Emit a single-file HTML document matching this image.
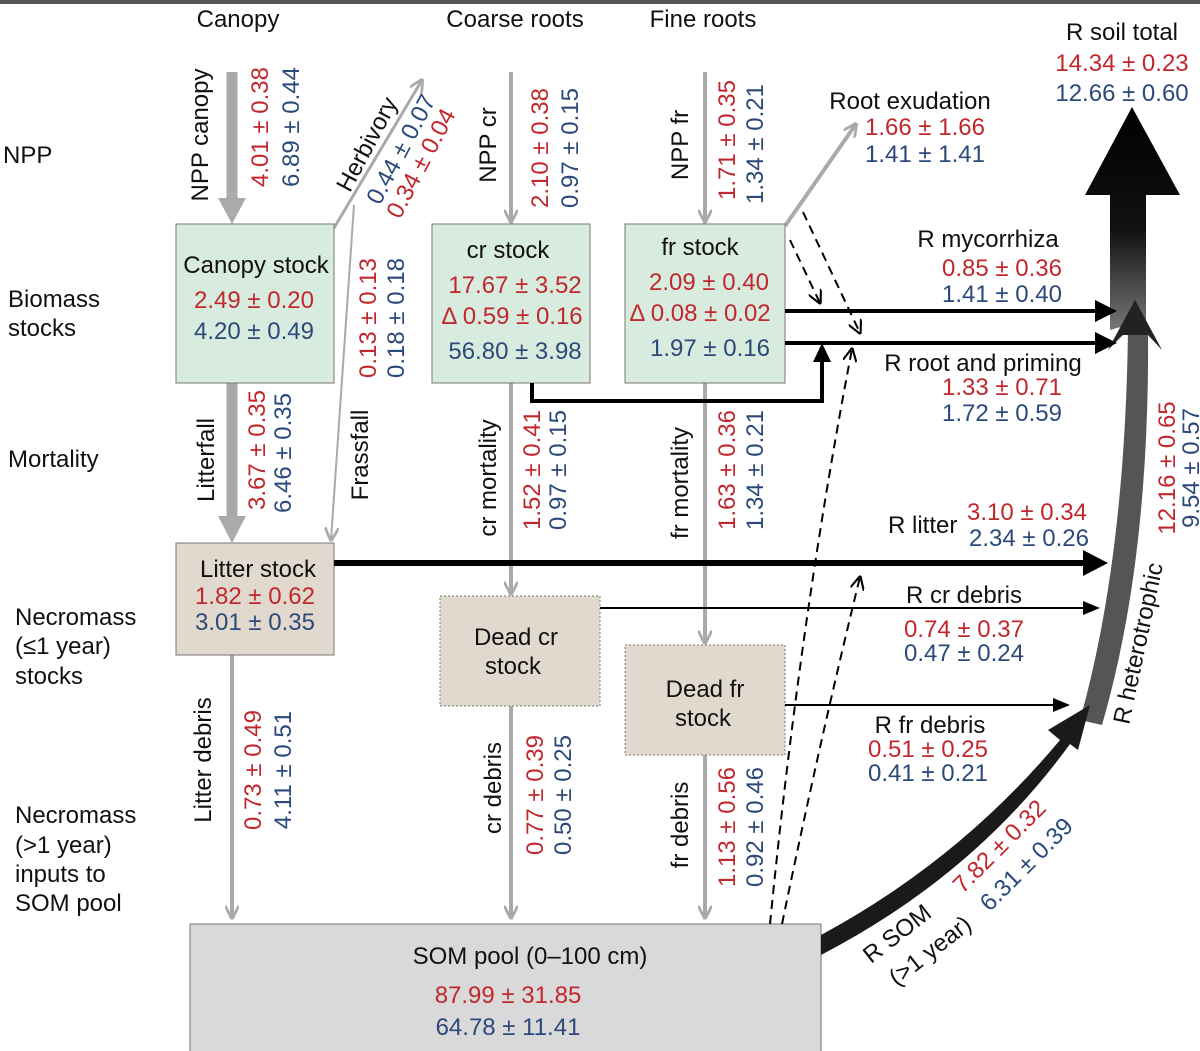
<!DOCTYPE html>
<html><head><meta charset="utf-8"><style>
html,body{margin:0;padding:0;background:#fff}
svg{display:block}
text{font-family:"Liberation Sans",sans-serif;font-size:24px}
.r{fill:#c0282d}.b{fill:#2b4a7a}.k{fill:#111}
</style></head><body>
<svg width="1200" height="1051" viewBox="0 0 1200 1051" xmlns="http://www.w3.org/2000/svg">
<defs>
<marker id="gs" viewBox="0 0 10 10" markerWidth="14" markerHeight="14" refX="9" refY="5" orient="auto" markerUnits="userSpaceOnUse"><path d="M0,0 L10,5 L0,10" fill="none" stroke="#aaa" stroke-width="2"/></marker>
<marker id="dv" viewBox="0 0 10 10" markerWidth="14" markerHeight="14" refX="9" refY="5" orient="auto" markerUnits="userSpaceOnUse"><path d="M0,0 L10,5 L0,10" fill="none" stroke="#000" stroke-width="1.5"/></marker>
<linearGradient id="gt" x1="0" y1="0" x2="0" y2="1"><stop offset="0" stop-color="#000"/><stop offset="0.55" stop-color="#111"/><stop offset="1" stop-color="#777"/></linearGradient>
</defs>
<rect x="0" y="0" width="1200" height="4" fill="#555"/>

<!-- column headers -->
<text x="238" y="27" text-anchor="middle" class="k" font-size="25">Canopy</text>
<text x="515" y="27" text-anchor="middle" class="k" font-size="25">Coarse roots</text>
<text x="703" y="27" text-anchor="middle" class="k" font-size="25">Fine roots</text>
<!-- row labels -->
<text x="3" y="163" class="k" font-size="25">NPP</text>
<text x="8" y="307" class="k">Biomass</text><text x="8" y="336" class="k">stocks</text>
<text x="8" y="467" class="k">Mortality</text>
<text x="15" y="625" class="k">Necromass</text><text x="15" y="654" class="k">(≤1 year)</text><text x="15" y="684" class="k">stocks</text>
<text x="15" y="823" class="k">Necromass</text><text x="15" y="853" class="k">(&gt;1 year)</text><text x="15" y="882" class="k">inputs to</text><text x="15" y="911" class="k">SOM pool</text>

<!-- gray vertical arrows -->
<g stroke="#aaa" fill="none">
<line x1="232" y1="72" x2="232" y2="200" stroke-width="11"/>
<path d="M218,198 L246,198 L232,224 z" fill="#aaa" stroke="none"/>
<line x1="232" y1="383" x2="232" y2="518" stroke-width="11"/>
<path d="M218,516 L246,516 L232,543 z" fill="#aaa" stroke="none"/>
<line x1="232" y1="655" x2="232" y2="918" stroke-width="4" marker-end="url(#gs)"/>
<line x1="511" y1="72" x2="511" y2="222" stroke-width="4" marker-end="url(#gs)"/>
<line x1="511" y1="383" x2="511" y2="594" stroke-width="4" marker-end="url(#gs)"/>
<line x1="511" y1="706" x2="511" y2="918" stroke-width="4" marker-end="url(#gs)"/>
<line x1="705" y1="72" x2="705" y2="222" stroke-width="4" marker-end="url(#gs)"/>
<line x1="705" y1="383" x2="705" y2="643" stroke-width="4" marker-end="url(#gs)"/>
<line x1="705" y1="755" x2="705" y2="918" stroke-width="4" marker-end="url(#gs)"/>
<line x1="334" y1="228" x2="422" y2="80" stroke-width="3" marker-end="url(#gs)"/>
<line x1="354" y1="205" x2="331" y2="540" stroke-width="2" marker-end="url(#gs)"/>
<line x1="785" y1="226" x2="856" y2="124" stroke-width="4" marker-end="url(#gs)"/>
</g>

<!-- boxes -->
<g stroke="#777" stroke-width="1">
<rect x="176" y="224" width="158" height="159" fill="#d8ebdf"/>
<rect x="432" y="224" width="158" height="159" fill="#d8ebdf"/>
<rect x="625" y="224" width="160" height="159" fill="#d8ebdf"/>
<rect x="176" y="543" width="158" height="112" fill="#e2d9ce"/>
<rect x="440" y="596" width="160" height="110" fill="#e2d9ce" stroke-dasharray="2,2"/>
<rect x="625" y="645" width="160" height="110" fill="#e2d9ce" stroke-dasharray="2,2"/>
<rect x="190" y="924" width="631" height="140" fill="#d9d9d9"/>
</g>
<text x="256" y="273" text-anchor="middle" class="k">Canopy stock</text>
<text x="254" y="308" text-anchor="middle" class="r">2.49 ± 0.20</text>
<text x="254" y="339" text-anchor="middle" class="b">4.20 ± 0.49</text>
<text x="508" y="258" text-anchor="middle" class="k">cr stock</text>
<text x="515" y="293" text-anchor="middle" class="r">17.67 ± 3.52</text>
<text x="512" y="324" text-anchor="middle" class="r">Δ 0.59 ± 0.16</text>
<text x="515" y="359" text-anchor="middle" class="b">56.80 ± 3.98</text>
<text x="700" y="255" text-anchor="middle" class="k">fr stock</text>
<text x="709" y="290" text-anchor="middle" class="r">2.09 ± 0.40</text>
<text x="700" y="321" text-anchor="middle" class="r">Δ 0.08 ± 0.02</text>
<text x="710" y="356" text-anchor="middle" class="b">1.97 ± 0.16</text>
<text x="258" y="577" text-anchor="middle" class="k">Litter stock</text>
<text x="255" y="604" text-anchor="middle" class="r">1.82 ± 0.62</text>
<text x="255" y="630" text-anchor="middle" class="b">3.01 ± 0.35</text>
<text x="516" y="645" text-anchor="middle" class="k">Dead cr</text>
<text x="513" y="674" text-anchor="middle" class="k">stock</text>
<text x="705" y="697" text-anchor="middle" class="k">Dead fr</text>
<text x="703" y="726" text-anchor="middle" class="k">stock</text>
<text x="530" y="964" text-anchor="middle" class="k">SOM pool  (0–100 cm)</text>
<text x="508" y="1003" text-anchor="middle" class="r">87.99 ± 31.85</text>
<text x="508" y="1035" text-anchor="middle" class="b">64.78 ± 11.41</text>

<!-- rotated labels -->
<g>
<text transform="translate(208,135) rotate(-90)" text-anchor="middle" class="k">NPP canopy</text>
<text transform="translate(268,127) rotate(-90)" text-anchor="middle" class="r">4.01 ± 0.38</text>
<text transform="translate(299,127) rotate(-90)" text-anchor="middle" class="b">6.89 ± 0.44</text>
<text transform="translate(374,148) rotate(-62)" text-anchor="middle" class="k">Herbivory</text>
<text transform="translate(408,153) rotate(-62)" text-anchor="middle" class="b">0.44 ± 0.07</text>
<text transform="translate(428,167) rotate(-62)" text-anchor="middle" class="r">0.34 ± 0.04</text>
<text transform="translate(496,145) rotate(-90)" text-anchor="middle" class="k">NPP cr</text>
<text transform="translate(548,148) rotate(-90)" text-anchor="middle" class="r">2.10 ± 0.38</text>
<text transform="translate(578,148) rotate(-90)" text-anchor="middle" class="b">0.97 ± 0.15</text>
<text transform="translate(688,145) rotate(-90)" text-anchor="middle" class="k">NPP fr</text>
<text transform="translate(735,140) rotate(-90)" text-anchor="middle" class="r">1.71 ± 0.35</text>
<text transform="translate(763,144) rotate(-90)" text-anchor="middle" class="b">1.34 ± 0.21</text>
<text transform="translate(376,318) rotate(-90)" text-anchor="middle" class="r">0.13 ± 0.13</text>
<text transform="translate(404,318) rotate(-90)" text-anchor="middle" class="b">0.18 ± 0.18</text>
<text transform="translate(214,460) rotate(-90)" text-anchor="middle" class="k">Litterfall</text>
<text transform="translate(265,450) rotate(-90)" text-anchor="middle" class="r">3.67 ± 0.35</text>
<text transform="translate(291,453) rotate(-90)" text-anchor="middle" class="b">6.46 ± 0.35</text>
<text transform="translate(368,455) rotate(-90)" text-anchor="middle" class="k">Frassfall</text>
<text transform="translate(496,478) rotate(-90)" text-anchor="middle" class="k">cr mortality</text>
<text transform="translate(540,470) rotate(-90)" text-anchor="middle" class="r">1.52 ± 0.41</text>
<text transform="translate(566,470) rotate(-90)" text-anchor="middle" class="b">0.97 ± 0.15</text>
<text transform="translate(688,483) rotate(-90)" text-anchor="middle" class="k">fr mortality</text>
<text transform="translate(735,470) rotate(-90)" text-anchor="middle" class="r">1.63 ± 0.36</text>
<text transform="translate(763,470) rotate(-90)" text-anchor="middle" class="b">1.34 ± 0.21</text>
<text transform="translate(211,760) rotate(-90)" text-anchor="middle" class="k">Litter debris</text>
<text transform="translate(261,770) rotate(-90)" text-anchor="middle" class="r">0.73 ± 0.49</text>
<text transform="translate(291,770) rotate(-90)" text-anchor="middle" class="b">4.11 ± 0.51</text>
<text transform="translate(501,788) rotate(-90)" text-anchor="middle" class="k">cr debris</text>
<text transform="translate(543,795) rotate(-90)" text-anchor="middle" class="r">0.77 ± 0.39</text>
<text transform="translate(571,795) rotate(-90)" text-anchor="middle" class="b">0.50 ± 0.25</text>
<text transform="translate(688,825) rotate(-90)" text-anchor="middle" class="k">fr debris</text>
<text transform="translate(735,827) rotate(-90)" text-anchor="middle" class="r">1.13 ± 0.56</text>
<text transform="translate(763,827) rotate(-90)" text-anchor="middle" class="b">0.92 ± 0.46</text>
</g>

<!-- big arrows -->
<path d="M1110,330 L1110,195 L1085,195 L1132,107 L1180,195 L1146,195 L1146,320 Z" fill="url(#gt)"/>
<path d="M1080,720 Q1125,560 1128,330 L1108,350 L1135,300 L1162,350 L1148,330 Q1150,560 1102,725 Z" fill="#555"/>
<path d="M1108,350 L1135,300 L1162,350 L1148,335 L1122,335 Z" fill="#222"/>
<path d="M821,935 Q960,860 1060,740 L1048,730 L1090,705 L1078,750 L1070,744 Q975,875 821,955 Z" fill="#1a1a1a"/>

<!-- black horizontal arrows -->
<g stroke="#000" fill="none">
<line x1="785" y1="311" x2="1098" y2="311" stroke-width="4"/>
<path d="M1095,300 L1117,311 L1095,322 z" fill="#000" stroke="none"/>
<line x1="785" y1="343" x2="1098" y2="343" stroke-width="4"/>
<path d="M1095,332 L1117,343 L1095,354 z" fill="#000" stroke="none"/>
<path d="M532,383 L532,401 L822,401 L822,360" stroke-width="4"/>
<path d="M813,362 L822,343 L831,362 z" fill="#000" stroke="none"/>
<line x1="334" y1="563" x2="1090" y2="563" stroke-width="6"/>
<path d="M1083,550 L1108,563 L1083,576 z" fill="#000" stroke="none"/>
<line x1="600" y1="608" x2="1092" y2="608" stroke-width="2"/>
<path d="M1083,601 L1100,608 L1083,615 z" fill="#000" stroke="none"/>
<line x1="785" y1="705" x2="1062" y2="705" stroke-width="2"/>
<path d="M1053,698 L1070,705 L1053,712 z" fill="#000" stroke="none"/>
</g>
<!-- dashed -->
<g stroke="#000" fill="none" stroke-width="2" stroke-dasharray="9,6">
<line x1="790" y1="240" x2="820" y2="303" marker-end="url(#dv)"/>
<line x1="803" y1="212" x2="860" y2="333" marker-end="url(#dv)"/>
<path d="M770,924 Q800,620 852,349" marker-end="url(#dv)"/>
<path d="M782,924 Q820,740 860,577" marker-end="url(#dv)"/>
</g>

<!-- right labels -->
<text x="1122" y="40" text-anchor="middle" class="k">R soil total</text>
<text x="1122" y="71" text-anchor="middle" class="r">14.34 ± 0.23</text>
<text x="1122" y="101" text-anchor="middle" class="b">12.66 ± 0.60</text>
<text x="910" y="109" text-anchor="middle" class="k">Root exudation</text>
<text x="925" y="135" text-anchor="middle" class="r">1.66 ± 1.66</text>
<text x="925" y="162" text-anchor="middle" class="b">1.41 ± 1.41</text>
<text x="988" y="247" text-anchor="middle" class="k">R mycorrhiza</text>
<text x="1002" y="276" text-anchor="middle" class="r">0.85 ± 0.36</text>
<text x="1002" y="302" text-anchor="middle" class="b">1.41 ± 0.40</text>
<text x="983" y="371" text-anchor="middle" class="k">R root and priming</text>
<text x="1002" y="395" text-anchor="middle" class="r">1.33 ± 0.71</text>
<text x="1002" y="421" text-anchor="middle" class="b">1.72 ± 0.59</text>
<text x="888" y="533" class="k">R litter</text>
<text x="1027" y="520" text-anchor="middle" class="r">3.10 ± 0.34</text>
<text x="1029" y="546" text-anchor="middle" class="b">2.34 ± 0.26</text>
<text x="964" y="603" text-anchor="middle" class="k">R cr debris</text>
<text x="964" y="637" text-anchor="middle" class="r">0.74 ± 0.37</text>
<text x="964" y="661" text-anchor="middle" class="b">0.47 ± 0.24</text>
<text x="930" y="733" text-anchor="middle" class="k">R fr debris</text>
<text x="928" y="757" text-anchor="middle" class="r">0.51 ± 0.25</text>
<text x="928" y="781" text-anchor="middle" class="b">0.41 ± 0.21</text>
<text transform="translate(1146,645) rotate(-78)" text-anchor="middle" class="k">R heterotrophic</text>
<text transform="translate(1175,468) rotate(-90)" text-anchor="middle" class="r">12.16 ± 0.65</text>
<text transform="translate(1199,468) rotate(-90)" text-anchor="middle" class="b">9.54 ± 0.57</text>
<text transform="translate(902,940) rotate(-38)" text-anchor="middle" class="k">R SOM</text>
<text transform="translate(935,957) rotate(-38)" text-anchor="middle" class="k">(&gt;1 year)</text>
<text transform="translate(1005,852) rotate(-45)" text-anchor="middle" class="r">7.82 ± 0.32</text>
<text transform="translate(1032,870) rotate(-45)" text-anchor="middle" class="b">6.31 ± 0.39</text>
</svg>
</body></html>
